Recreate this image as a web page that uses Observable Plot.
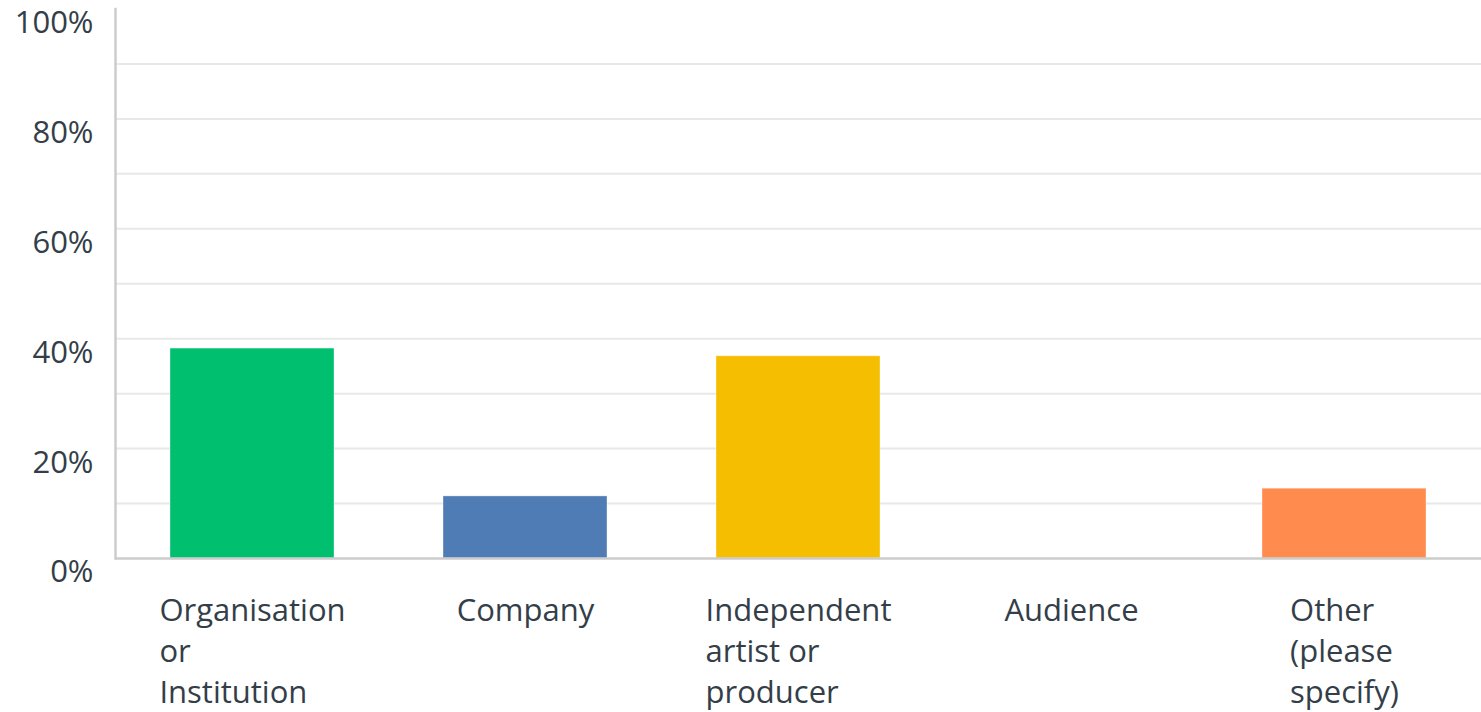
<!DOCTYPE html>
<html><head><meta charset="utf-8">
<script src="https://cdn.jsdelivr.net/npm/d3@7"></script>
<script src="https://cdn.jsdelivr.net/npm/@observablehq/plot@0.6"></script>
<style>
html,body{margin:0;padding:0;background:#fff;}
#chart svg{display:block;}
</style>
</head><body><div id="chart"></div>
<script>
const categories = ["Organisation\nor\nInstitution", "Company", "Independent\nartist or\nproducer", "Audience", "Other\n(please\nspecify)"];
const values = [38.2, 11.3, 36.8, 0, 12.7];
const colors = ["#00BF6F", "#507CB6", "#F5BE00", "#6BC8CD", "#FF8B4F"];
const yTicks = [0, 20, 40, 60, 80, 100];
const gridTicks = [10, 20, 30, 40, 50, 60, 70, 80, 90];

const FONT = "'Open Sans', sans-serif";
const FS = 31;
const TEXT = "#333e48";

const data = categories.map((c, i) => ({category: c, value: values[i], color: colors[i]}));

const ctx = document.createElement("canvas").getContext("2d");
ctx.font = `${FS}px 'Open Sans'`;
const blockWidth = c => d3.max(c.split("\n"), l => ctx.measureText(l).width);

const labelMarks = data.map(d =>
  Plot.text([d], {
    x: "category", text: "category", frameAnchor: "bottom",
    textAnchor: "start", lineAnchor: "top", lineHeight: 41 / FS,
    dx: -blockWidth(d.category) / 2, dy: 33,
    fill: TEXT, fontSize: FS, fontFamily: FONT
  })
);

const chart = Plot.plot({
  width: 1481, height: 712,
  marginLeft: 115, marginRight: 0, marginTop: 8.5, marginBottom: 154,
  style: {fontFamily: FONT, background: "#fff", overflow: "visible"},
  x: {domain: categories, paddingInner: 0.4, paddingOuter: 0.2, axis: null},
  y: {domain: [0, 100], axis: null},
  marks: [
    Plot.ruleY(gridTicks, {stroke: "#e8e8e8", strokeWidth: 2}),
    Plot.barY(data, {x: "category", y: "value", fill: "color", stroke: "#ffffff", strokeOpacity: 0.35, strokeWidth: 1}),
    Plot.ruleY([0], {stroke: "#cccccc", strokeWidth: 2.5}),
    Plot.axisY(yTicks, {label: null, tickSize: 0, tickPadding: 22, tickFormat: d => d + "%", dy: 14, fontSize: FS, fill: TEXT, fontFamily: FONT}),
    Plot.frame({anchor: "left", stroke: "#cccccc", strokeWidth: 2.5}),
    ...labelMarks
  ]
});
document.getElementById("chart").append(chart);
</script>
</body></html>
